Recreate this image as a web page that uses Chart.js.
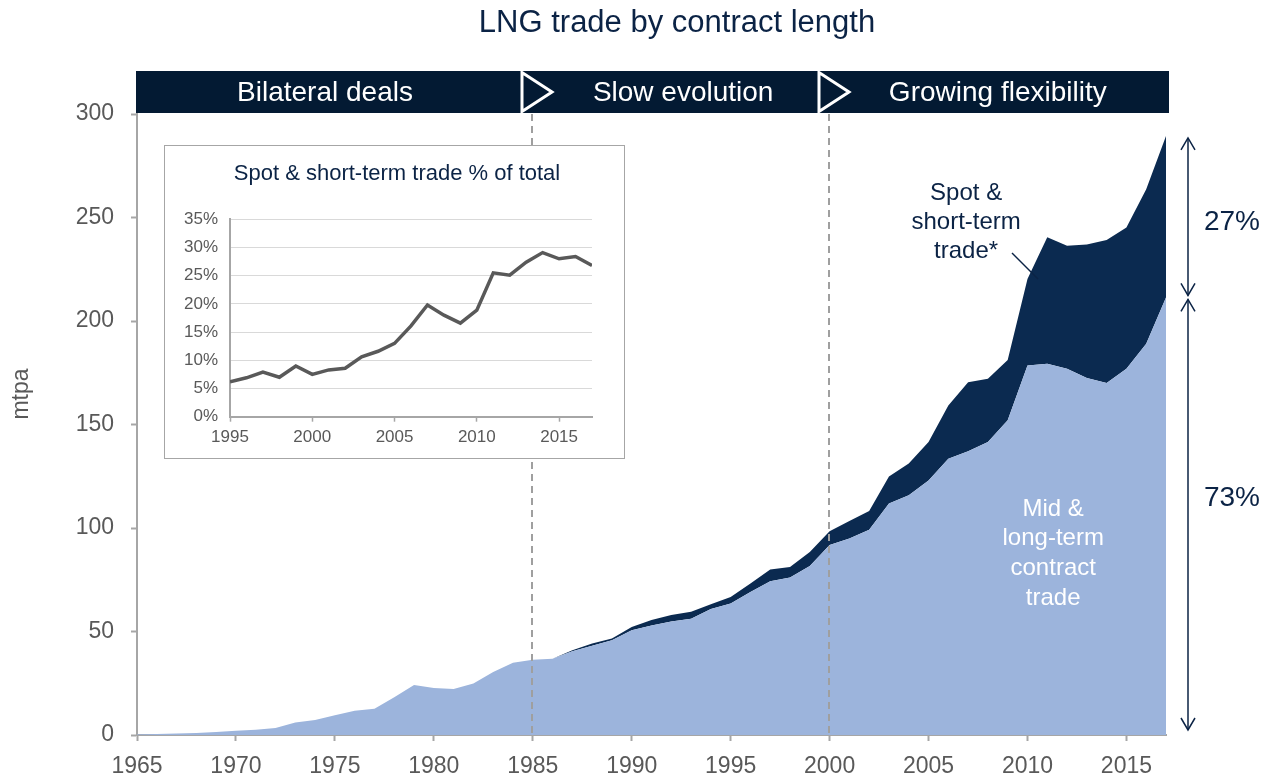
<!DOCTYPE html>
<html>
<head>
<meta charset="utf-8">
<script src="https://cdn.jsdelivr.net/npm/chart.js@4.4.1/dist/chart.umd.min.js"></script>
<style>
html,body{margin:0;padding:0;background:#fff;}
#wrap{position:relative;width:1273px;height:783px;overflow:hidden;background:#fff;}
#main{position:absolute;left:0;top:0;}
#insetBox{position:absolute;left:164px;top:145px;width:459px;height:312px;border:1px solid #a6a6a6;background:#fff;}
#inset{position:absolute;left:0;top:0;}
</style>
</head>
<body>
<div id="wrap">
  <canvas id="main" width="1273" height="783"></canvas>
  <div id="insetBox"><canvas id="inset" width="459" height="312"></canvas></div>
</div>
<script>
// ---------------- DATA ----------------
const years = [1965,1966,1967,1968,1969,1970,1971,1972,1973,1974,1975,1976,1977,1978,1979,1980,1981,1982,1983,1984,1985,1986,1987,1988,1989,1990,1991,1992,1993,1994,1995,1996,1997,1998,1999,2000,2001,2002,2003,2004,2005,2006,2007,2008,2009,2010,2011,2012,2013,2014,2015,2016,2017];
// Mid & long-term contract trade (mtpa)
const midLongTerm = [0.3,0.5,0.7,1.0,1.5,2.0,2.5,3.4,6.0,7.2,9.6,11.7,12.7,18.2,24.1,22.7,22.2,24.9,30.4,34.9,36.3,36.8,40.5,43.1,45.8,50.6,52.9,54.8,56.1,60.9,63.5,69.1,74.3,76.1,81.7,91.8,94.9,99.2,111.8,115.8,123.0,133.5,137.1,141.5,152.0,178.5,179.3,176.9,172.5,170.0,176.9,189.0,211.4];
// Total LNG trade incl. spot & short-term (mtpa)
const totalTrade = [0.3,0.5,0.7,1.0,1.5,2.0,2.5,3.4,6.0,7.2,9.6,11.7,12.7,18.2,24.1,22.7,22.2,24.9,30.4,34.9,36.3,36.8,41.0,44.2,46.6,52.2,55.5,58.0,59.5,63.2,66.7,73.2,79.9,81.2,88.4,98.4,103.4,108.2,124.9,131.1,141.5,159.2,170.4,172.1,181.2,220.3,240.4,236.4,236.9,239.1,245.2,263.7,289.4];

// Inset: spot & short-term share of total (%)
const insetYears = [1995,1996,1997,1998,1999,2000,2001,2002,2003,2004,2005,2006,2007,2008,2009,2010,2011,2012,2013,2014,2015,2016,2017];
const spotSharePct = [6.2,6.9,7.9,7.0,9.0,7.5,8.3,8.6,10.6,11.6,13.0,16.1,19.8,18.0,16.6,18.9,25.5,25.1,27.4,29.1,28.0,28.4,26.8];

// Phases (header band) and boundaries
const phaseLabels = ['Bilateral deals','Slow evolution','Growing flexibility'];
const phaseBoundaries = [1985, 2000];

// Text labels
const chartTitle = 'LNG trade by contract length';
const yAxisTitle = 'mtpa';
const insetTitle = 'Spot & short-term trade % of total';
const spotLabel = ['Spot &','short-term','trade*'];
const midLabel = ['Mid &','long-term','contract','trade'];
const shareLabels = ['27%','73%'];

// ---------------- STYLE ----------------
const FONT = "'Liberation Sans', Arial, Helvetica, sans-serif";
const NAVY_TEXT = '#0b2345';
const BAND = '#031a33';
const DARK = '#0b2a50';
const LIGHT = '#9cb4dc';
const GREY = '#595959';
const AXIS = '#a6a6a6';
Chart.defaults.font.family = FONT;

const annotations = {
  id: 'annotations',
  afterDatasetsDraw(chart) {
    const {ctx, chartArea: a, scales: {x}} = chart;
    ctx.save();
    ctx.strokeStyle = '#9f9f9f';
    ctx.lineWidth = 2;
    ctx.setLineDash([7, 5]);
    phaseBoundaries.forEach(yr => {
      const px = Math.round(x.getPixelForValue(yr)) - 1;
      ctx.beginPath();
      ctx.moveTo(px, a.top);
      ctx.lineTo(px, a.bottom);
      ctx.stroke();
    });
    ctx.restore();
  },
  afterDraw(chart) {
    const {ctx, chartArea: a, scales: {x, y}} = chart;
    ctx.save();
    // ---- title ----
    ctx.fillStyle = NAVY_TEXT;
    ctx.font = '31px ' + FONT;
    ctx.textAlign = 'center';
    ctx.textBaseline = 'middle';
    ctx.fillText(chartTitle, 677, 23);

    // ---- header band ----
    const bTop = 71, bBot = a.top - 1;
    const bLeft = a.left - 1, bRight = a.right + 3;
    ctx.fillStyle = BAND;
    ctx.fillRect(bLeft, bTop, bRight - bLeft, bBot - bTop);
    phaseBoundaries.forEach(yr => {
      const px = Math.round(x.getPixelForValue(yr)) - 1;
      ctx.beginPath();
      ctx.moveTo(px - 10, bTop + 1.5);
      ctx.lineTo(px + 20, (bTop + bBot) / 2);
      ctx.lineTo(px - 10, bBot - 1.5);
      ctx.closePath();
      ctx.fillStyle = BAND;
      ctx.fill();
      ctx.strokeStyle = '#ffffff';
      ctx.lineWidth = 3;
      ctx.lineJoin = 'miter';
      ctx.stroke();
    });
    ctx.fillStyle = '#ffffff';
    ctx.font = '28px ' + FONT;
    const centers = [1974.5, 1992.6, 2008.5];
    phaseLabels.forEach((t, i) => ctx.fillText(t, x.getPixelForValue(centers[i]), (bTop + bBot) / 2 + 1));

    // ---- y axis title ----
    ctx.save();
    ctx.translate(22, 394);
    ctx.rotate(-Math.PI / 2);
    ctx.fillStyle = GREY;
    ctx.font = '23px ' + FONT;
    ctx.fillText(yAxisTitle, 0, 0);
    ctx.restore();

    // ---- spot label ----
    ctx.fillStyle = NAVY_TEXT;
    ctx.font = '24px ' + FONT;
    const sx = x.getPixelForValue(2006.9);
    spotLabel.forEach((t, i) => ctx.fillText(t, sx, 193 + i * 29));
    ctx.strokeStyle = NAVY_TEXT;
    ctx.lineWidth = 1.5;
    ctx.beginPath();
    ctx.moveTo(1012, 253);
    ctx.lineTo(1038, 279);
    ctx.stroke();

    // ---- mid label ----
    ctx.fillStyle = '#ffffff';
    const mx = x.getPixelForValue(2011.3);
    midLabel.forEach((t, i) => ctx.fillText(t, mx, 509 + i * 29.7));

    // ---- right-hand arrows ----
    const last = years.length - 1;
    const ax = a.right + 22;
    const yTot = y.getPixelForValue(totalTrade[last]);
    const yMid = y.getPixelForValue(midLongTerm[last]);
    const yZero = y.getPixelForValue(0);
    ctx.strokeStyle = NAVY_TEXT;
    ctx.lineWidth = 1.5;
    const seg = (y1, y2) => {
      ctx.beginPath(); ctx.moveTo(ax, y1); ctx.lineTo(ax, y2); ctx.stroke();
      [[y1, 1], [y2, -1]].forEach(([yy, d]) => {
        ctx.beginPath();
        ctx.moveTo(ax - 7, yy + d * 12);
        ctx.lineTo(ax, yy);
        ctx.lineTo(ax + 7, yy + d * 12);
        ctx.stroke();
      });
    };
    seg(yTot + 2, yMid - 2);
    seg(yMid + 2, yZero - 5);
    ctx.fillStyle = NAVY_TEXT;
    ctx.font = '28px ' + FONT;
    ctx.fillText(shareLabels[0], 1232, 222);
    ctx.fillText(shareLabels[1], 1232, 498);
    ctx.restore();
  }
};

new Chart(document.getElementById('main'), {
  type: 'line',
  data: {
    datasets: [
      {
        label: 'Mid & long-term contract trade',
        data: years.map((yr, i) => ({x: yr, y: midLongTerm[i]})),
        backgroundColor: LIGHT,
        borderWidth: 0,
        borderColor: LIGHT,
        pointRadius: 0,
        fill: 'origin',
        tension: 0
      },
      {
        label: 'Spot & short-term trade',
        data: years.map((yr, i) => ({x: yr, y: totalTrade[i]})),
        backgroundColor: DARK,
        borderWidth: 0,
        borderColor: DARK,
        pointRadius: 0,
        fill: '-1',
        tension: 0
      }
    ]
  },
  options: {
    responsive: false,
    animation: false,
    events: [],
    layout: {padding: {left: 0, right: 107, top: 114, bottom: 0}},
    plugins: {
      legend: {display: false},
      tooltip: {enabled: false},
      title: {display: false}
    },
    scales: {
      x: {
        type: 'linear',
        min: 1965,
        max: 2017,
        afterFit: s => { s.height = 48; },
        ticks: {
          stepSize: 5,
          includeBounds: false,
          color: GREY,
          font: {size: 23},
          padding: 12,
          maxRotation: 0,
          callback: v => String(v)
        },
        grid: {display: true, drawOnChartArea: false, drawTicks: true, tickLength: 6, tickColor: AXIS, tickWidth: 2},
        border: {color: AXIS, width: 2}
      },
      y: {
        min: 0,
        max: 300,
        afterFit: s => { s.width = 137; },
        ticks: {stepSize: 50, color: GREY, font: {size: 23}, padding: 17},
        grid: {display: true, drawOnChartArea: false, drawTicks: true, tickLength: 6, tickColor: AXIS, tickWidth: 2},
        border: {color: AXIS, width: 2}
      }
    }
  },
  plugins: [annotations]
});

// ---------------- INSET ----------------
const insetTitlePlugin = {
  id: 'insetTitle',
  afterDraw(chart) {
    const ctx = chart.ctx;
    ctx.save();
    ctx.fillStyle = NAVY_TEXT;
    ctx.font = '22px ' + FONT;
    ctx.textAlign = 'center';
    ctx.textBaseline = 'middle';
    ctx.fillText(insetTitle, 232, 28);
    ctx.restore();
  }
};

new Chart(document.getElementById('inset'), {
  type: 'line',
  data: {
    datasets: [{
      label: 'Spot & short-term share',
      data: insetYears.map((yr, i) => ({x: yr, y: spotSharePct[i]})),
      borderColor: GREY,
      borderWidth: 3.5,
      pointRadius: 0,
      fill: false,
      tension: 0
    }]
  },
  options: {
    responsive: false,
    animation: false,
    events: [],
    layout: {padding: {left: 0, right: 32, top: 73.3, bottom: 0}},
    plugins: {
      legend: {display: false},
      tooltip: {enabled: false},
      title: {display: false}
    },
    scales: {
      x: {
        type: 'linear',
        min: 1995,
        max: 2017,
        afterFit: s => { s.height = 41.3; },
        ticks: {stepSize: 5, includeBounds: false, color: GREY, font: {size: 17}, padding: 5, maxRotation: 0, callback: v => String(v)},
        grid: {display: true, drawOnChartArea: false, drawTicks: true, tickLength: 5, tickColor: AXIS, tickWidth: 1.5},
        border: {color: AXIS, width: 2}
      },
      y: {
        min: 0,
        max: 35,
        afterFit: s => { s.width = 65; },
        ticks: {stepSize: 5, color: GREY, font: {size: 17}, padding: 12, callback: v => v + '%'},
        grid: {color: '#d9d9d9', lineWidth: 1, drawTicks: false},
        border: {color: AXIS, width: 2}
      }
    }
  },
  plugins: [insetTitlePlugin]
});
</script>
</body>
</html>
